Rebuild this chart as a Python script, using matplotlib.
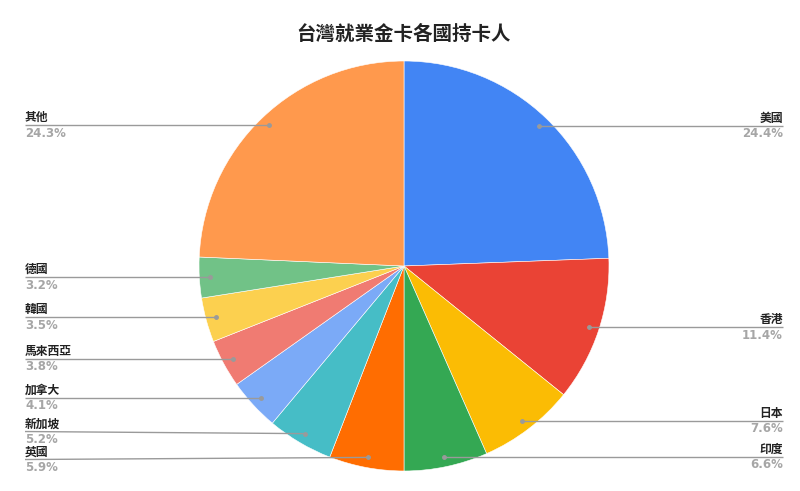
import matplotlib
matplotlib.use("Agg")
import matplotlib.pyplot as plt
import numpy as np

plt.rcParams['font.family'] = ['Noto Sans CJK TC', 'DejaVu Sans']

title = "台灣就業金卡各國持卡人"
categories = ["美國", "香港", "日本", "印度", "英國", "新加坡", "加拿大", "馬來西亞", "韓國", "德國", "其他"]
values = [24.4, 11.4, 7.6, 6.6, 5.9, 5.2, 4.1, 3.8, 3.5, 3.2, 24.3]
colors = ["#4285F4", "#EA4335", "#FBBC04", "#34A853", "#FF6D01", "#46BDC6",
          "#7BAAF7", "#F07B72", "#FCD04F", "#71C287", "#FF994D"]

W, H = 800, 491
fig = plt.figure(figsize=(W / 100, H / 100), dpi=100)
ax = fig.add_axes([0, 0, 1, 1])
cx, cy, R = 404, H - 266, 205
wedges, _ = ax.pie(values, colors=colors, startangle=90, counterclock=False,
                   center=(cx, cy), radius=R, wedgeprops=dict(linewidth=0.4, edgecolor="white"))
ax.set_xlim(0, W)
ax.set_ylim(0, H)
ax.set_aspect("equal")
ax.axis("off")

# anchors
items = []
for w, name, v in zip(wedges, categories, values):
    mid = np.deg2rad((w.theta1 + w.theta2) / 2)
    axp = cx + 0.95 * R * np.cos(mid)
    ayp = cy + 0.95 * R * np.sin(mid)
    items.append(dict(name=name, v=v, ax=axp, ay=ayp, ly=ayp, right=axp >= cx))

# simple label de-overlap per side
MIN_GAP = 28
for side in (True, False):
    grp = sorted([it for it in items if it["right"] == side], key=lambda d: -d["ay"])
    for _ in range(50):
        moved = False
        for a, b in zip(grp, grp[1:]):
            gap = a["ly"] - b["ly"]
            if gap < MIN_GAP:
                d = (MIN_GAP - gap) / 2
                a["ly"] += d
                b["ly"] -= d
                moved = True
        if not moved:
            break

for it in items:
    if it["right"]:
        lx, ha = 783, "right"
    else:
        lx, ha = 25, "left"
    ax.plot([it["ax"], lx], [it["ay"], it["ly"]], color="#9a9a9a", lw=1.0, solid_capstyle="butt", zorder=3)
    ax.plot([it["ax"]], [it["ay"]], "o", color="#9a9a9a", ms=2.5, zorder=4)
    ax.text(lx, it["ly"] + 1, it["name"], ha=ha, va="bottom", fontsize=8.5, fontweight="bold", color="#222222")
    ax.text(lx, it["ly"] - 1.5, f"{it['v']:.1f}%", ha=ha, va="top", fontsize=8.5, fontweight="bold",
            color="#a6a6a6", family=["DejaVu Sans"])

ax.text(W / 2 + 4, H - 34, title, ha="center", va="center", fontsize=14, fontweight="bold", color="#222222")

fig.savefig("out.png", dpi=100)
